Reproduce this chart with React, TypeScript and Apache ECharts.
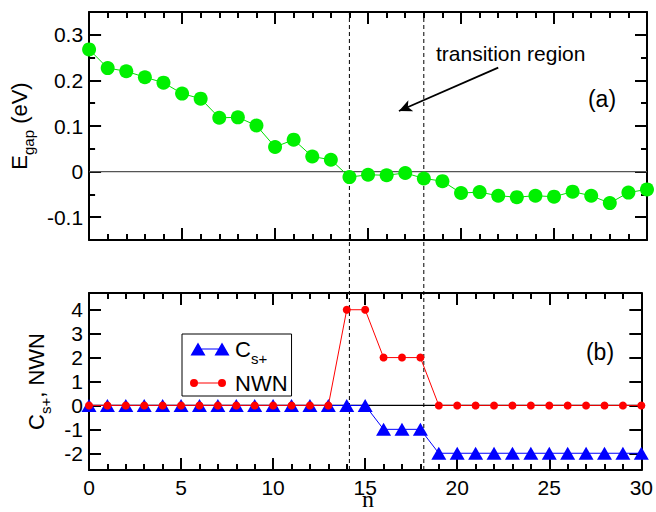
import React, { useEffect, useRef } from 'react';
import * as echarts from 'echarts';

const nValues = [0, 1, 2, 3, 4, 5, 6, 7, 8, 9, 10, 11, 12, 13, 14, 15, 16, 17, 18, 19, 20, 21, 22, 23, 24, 25, 26, 27, 28, 29, 30];
const egapValues = [0.268, 0.227, 0.22, 0.207, 0.195, 0.171, 0.16, 0.118, 0.119, 0.101, 0.054, 0.07, 0.033, 0.026, -0.012, -0.007, -0.008, -0.003, -0.015, -0.021, -0.047, -0.045, -0.053, -0.056, -0.053, -0.055, -0.044, -0.053, -0.069, -0.046, -0.039];
const csValues = [0, 0, 0, 0, 0, 0, 0, 0, 0, 0, 0, 0, 0, 0, 0, 0, -1, -1, -1, -2, -2, -2, -2, -2, -2, -2, -2, -2, -2, -2, -2];
const nwnValues = [0, 0, 0, 0, 0, 0, 0, 0, 0, 0, 0, 0, 0, 0, 4, 4, 2, 2, 2, 0, 0, 0, 0, 0, 0, 0, 0, 0, 0, 0, 0];
const egapMajorTicks = [-0.1, 0, 0.1, 0.2, 0.3];
const egapMinorTicks = [-0.05, 0.05, 0.15, 0.25];
const bottomTicks = [-2, -1, 0, 1, 2, 3, 4];
const transitionBounds = [14, 18];
const zeroLineX = [0, 30];
const arrowFrom = [22, 0.228];
const arrowHead = [16.66, 0.133];

const FONT = '"Liberation Sans", Arial, Helvetica, sans-serif';
const SERIF = '"Liberation Serif", "Times New Roman", serif';
const triIcon = 'path://M0,0 L0,0 Z M40,14 L40,14 Z M0.5,13.5 L8,0.5 L15.5,13.5 Z M8,6.4 L32,6.4 L32,7.6 L8,7.6 Z M24.5,13.5 L32,0.5 L39.5,13.5 Z';
const dotIcon = 'path://M0,0 L0,0 Z M40,14 L40,14 Z M0,7 A4,4 0 1 1 8,7 A4,4 0 1 1 0,7 Z M4,6.5 L32,6.5 L32,7.5 L4,7.5 Z M28,7 A4,4 0 1 1 36,7 A4,4 0 1 1 28,7 Z';

function xAx(gridIndex: number, position: string, labels: boolean) {
  return {
    type: 'value', gridIndex, position, min: 0, max: 30, interval: 5,
    axisLine: { show: true, onZero: false, lineStyle: { color: '#000', width: 2 } },
    axisTick: { show: true, inside: true, length: 12, lineStyle: { color: '#000', width: 2 } },
    minorTick: { show: true, splitNumber: 5, length: 6, lineStyle: { color: '#000', width: 2 } },
    axisLabel: { show: labels, fontSize: 21, color: '#000', fontFamily: FONT, margin: 7 },
    splitLine: { show: false },
  };
}
function yAx(gridIndex: number, position: string, min: number, max: number, ticks: number[], len: number, labels: boolean, line: boolean, extra: any = {}) {
  return {
    type: 'value', gridIndex, position, min, max,
    axisLine: { show: line, onZero: false, lineStyle: { color: '#000', width: 2 } },
    axisTick: { show: true, inside: true, length: len, customValues: ticks, lineStyle: { color: '#000', width: 2 } },
    axisLabel: { show: labels, customValues: ticks, fontSize: 21, color: '#000', fontFamily: FONT, margin: 6 },
    splitLine: { show: false },
    ...extra,
  };
}
const nameRich = {
  m: { fontSize: 22, fontFamily: FONT, color: '#000', lineHeight: 22, verticalAlign: 'top' },
  s: { fontSize: 15, fontFamily: FONT, color: '#000', lineHeight: 15, verticalAlign: 'top', padding: [13, 0, 0, 0] },
};

export default function App() {
  const ref = useRef<HTMLDivElement>(null);
  useEffect(() => {
    if (!ref.current) return;
    const chart = echarts.init(ref.current, undefined, { renderer: 'svg' });
    const option: any = {
      animation: false,
      backgroundColor: '#fff',
      grid: [
        { left: 89, right: 9, top: 12, height: 228 },
        { left: 89, right: 9, top: 293, height: 177 },
        { left: 89, right: 9, top: 12, height: 458 },
      ],
      xAxis: [
        xAx(0, 'bottom', false),
        xAx(0, 'top', false),
        xAx(1, 'bottom', true),
        xAx(1, 'top', false),
        { type: 'value', gridIndex: 2, min: 0, max: 30, show: false },
      ],
      yAxis: [
        yAx(0, 'left', -0.15, 0.35, egapMajorTicks, 12, true, true, {
          name: '{m|E}{s|gap}{m| (eV)}', nameLocation: 'middle', nameRotate: 90, nameGap: 48,
          nameTextStyle: { rich: nameRich },
        }),
        yAx(0, 'left', -0.15, 0.35, egapMinorTicks, 6, false, false),
        yAx(0, 'right', -0.15, 0.35, egapMajorTicks, 12, false, true),
        yAx(0, 'right', -0.15, 0.35, egapMinorTicks, 6, false, false),
        yAx(1, 'left', -2.7, 4.7, bottomTicks, 12, true, true, {
          name: '{m|C}{s|s+}{m|, NWN}', nameLocation: 'middle', nameRotate: 90, nameGap: 33,
          nameTextStyle: { rich: nameRich },
        }),
        yAx(1, 'right', -2.7, 4.7, bottomTicks, 12, false, true),
        { type: 'value', gridIndex: 2, min: 0, max: 1, show: false },
      ],
      legend: {
        left: 182, top: 334, orient: 'vertical',
        backgroundColor: '#fff', borderColor: '#000', borderWidth: 1, borderRadius: 0,
        padding: [4, 4, 2, 8], itemGap: 6, itemWidth: 40, itemHeight: 14,
        symbolKeepAspect: false, selectedMode: false,
        itemStyle: { borderWidth: 0 },
        data: [
          { name: 'Cs+', icon: triIcon },
          { name: 'NWN', icon: dotIcon },
        ],
        formatter: (name: string) => (name === 'Cs+' ? '{m|C}{s|s+}' : '{m|NWN}'),
        textStyle: { color: '#000', fontFamily: FONT, fontSize: 22, rich: nameRich },
      },
      series: [
        ...transitionBounds.map((v) => ({
          type: 'line', xAxisIndex: 4, yAxisIndex: 6, z: 1, symbol: 'none',
          data: [[v, 0], [v, 1]],
          lineStyle: { color: '#000', width: 1, type: [4, 3] },
        })),
        {
          type: 'line', xAxisIndex: 0, yAxisIndex: 0, z: 2, symbol: 'none',
          data: zeroLineX.map((x) => [x, 0]),
          lineStyle: { color: '#555', width: 1.2 },
        },
        {
          type: 'line', xAxisIndex: 2, yAxisIndex: 4, z: 2, symbol: 'none',
          data: zeroLineX.map((x) => [x, 0]),
          lineStyle: { color: '#000', width: 1.2 },
        },
        {
          type: 'line', xAxisIndex: 0, yAxisIndex: 0, z: 2, symbol: 'arrow',
          data: [
            { value: arrowFrom, symbol: 'none' },
            { value: arrowHead, symbol: 'arrow', symbolSize: [9, 13], symbolRotate: 114 },
          ],
          itemStyle: { color: '#000' },
          lineStyle: { color: '#000', width: 1.8 },
        },
        {
          name: 'Egap', type: 'line', xAxisIndex: 0, yAxisIndex: 0, z: 3,
          data: nValues.map((n, i) => [n, egapValues[i]]),
          symbol: 'circle', symbolSize: 14,
          itemStyle: { color: '#00f000' },
          lineStyle: { color: '#00e000', width: 1 },
        },
        {
          name: 'Cs+', type: 'line', xAxisIndex: 2, yAxisIndex: 4, z: 3,
          data: nValues.map((n, i) => [n, csValues[i]]),
          symbol: 'triangle', symbolSize: [15, 13],
          itemStyle: { color: '#0000ff' },
          lineStyle: { color: '#0000ff', width: 1 },
        },
        {
          name: 'NWN', type: 'line', xAxisIndex: 2, yAxisIndex: 4, z: 4,
          data: nValues.map((n, i) => [n, nwnValues[i]]),
          symbol: 'circle', symbolSize: 8,
          itemStyle: { color: '#ff0000' },
          lineStyle: { color: '#ff0000', width: 1 },
        },
      ],
      graphic: [
        { type: 'text', left: 436, top: 43, style: { text: 'transition region', fontSize: 21, fontFamily: FONT, fill: '#000' } },
        { type: 'text', x: 602, y: 99, style: { text: '(a)', fontSize: 23, fontFamily: FONT, fill: '#000', align: 'center', verticalAlign: 'middle' } },
        { type: 'text', x: 600, y: 352, style: { text: '(b)', fontSize: 23, fontFamily: FONT, fill: '#000', align: 'center', verticalAlign: 'middle' } },
        { type: 'text', x: 368, y: 499, style: { text: 'n', fontSize: 24, fontFamily: SERIF, fill: '#000', align: 'center', verticalAlign: 'middle' } },
      ],
    };
    chart.setOption(option);
    return () => chart.dispose();
  }, []);
  return <div ref={ref} style={{ position: 'fixed', left: 0, top: 0, width: 656, height: 512 }} />;
}
